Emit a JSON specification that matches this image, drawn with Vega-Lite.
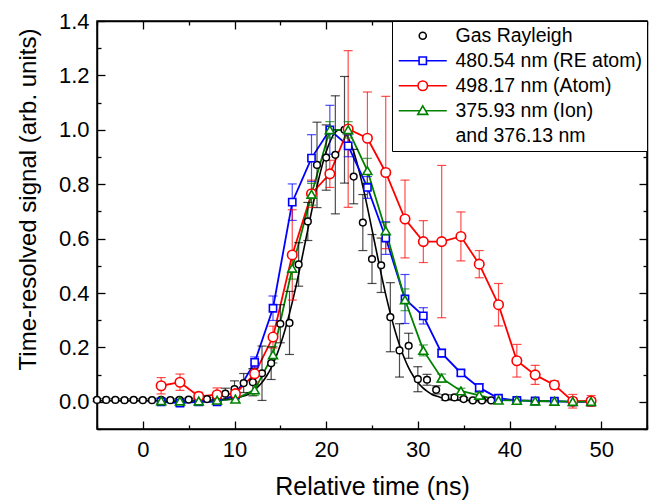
{
  "$schema": "https://vega.github.io/schema/vega-lite/v6.json",
  "width": 550,
  "height": 408,
  "autosize": {"type": "none"},
  "padding": {"left": 97, "top": 21, "right": 7, "bottom": 72},
  "background": "white",
  "config": {
    "font": "Liberation Sans",
    "view": {"stroke": "black", "strokeWidth": 1.5},
    "axis": {"grid": false, "domainColor": "black", "domainWidth": 1.5, "tickColor": "black", "tickWidth": 1.3, "labelColor": "black", "titleColor": "black", "labelFont": "Liberation Sans", "titleFont": "Liberation Sans", "labelFontSize": 22, "titleFontSize": 24, "titleFontWeight": "normal", "labelFlush": false, "labelOverlap": false}
  },
  "datasets": {
    "fit": [
      {"t": -5, "v": 0.005}, {"t": 5, "v": 0.005}, {"t": 6.5, "v": 0.0052}, {"t": 7.5, "v": 0.0056}, {"t": 8.5, "v": 0.0068}, {"t": 9.5, "v": 0.0095},
      {"t": 10, "v": 0.012}, {"t": 10.5, "v": 0.016}, {"t": 11, "v": 0.021}, {"t": 11.5, "v": 0.028}, {"t": 12, "v": 0.039}, {"t": 12.5, "v": 0.053},
      {"t": 13, "v": 0.071}, {"t": 13.5, "v": 0.095}, {"t": 14, "v": 0.125}, {"t": 14.5, "v": 0.163}, {"t": 15, "v": 0.209}, {"t": 15.5, "v": 0.263},
      {"t": 16, "v": 0.325}, {"t": 16.5, "v": 0.394}, {"t": 17, "v": 0.47}, {"t": 17.5, "v": 0.551}, {"t": 18, "v": 0.633}, {"t": 18.5, "v": 0.715},
      {"t": 19, "v": 0.792}, {"t": 19.5, "v": 0.861}, {"t": 20, "v": 0.919}, {"t": 20.5, "v": 0.963}, {"t": 21, "v": 0.991}, {"t": 21.5, "v": 1.0},
      {"t": 22, "v": 0.991}, {"t": 22.5, "v": 0.963}, {"t": 23, "v": 0.919}, {"t": 23.5, "v": 0.861}, {"t": 24, "v": 0.792}, {"t": 24.5, "v": 0.715},
      {"t": 25, "v": 0.633}, {"t": 25.5, "v": 0.551}, {"t": 26, "v": 0.47}, {"t": 26.5, "v": 0.394}, {"t": 27, "v": 0.325}, {"t": 27.5, "v": 0.263},
      {"t": 28, "v": 0.209}, {"t": 28.5, "v": 0.163}, {"t": 29, "v": 0.125}, {"t": 29.5, "v": 0.095}, {"t": 30, "v": 0.071}, {"t": 30.5, "v": 0.053},
      {"t": 31, "v": 0.039}, {"t": 31.5, "v": 0.028}, {"t": 32, "v": 0.021}, {"t": 32.5, "v": 0.016}, {"t": 33, "v": 0.012}, {"t": 33.5, "v": 0.0095},
      {"t": 34.5, "v": 0.0068}, {"t": 35.5, "v": 0.0056}, {"t": 36.5, "v": 0.0052}, {"t": 39, "v": 0.005}
    ],
    "pts": [
      {"s": "Gas Rayleigh", "t": -5, "v": 0.007, "lo": 0.002, "hi": 0.012},
      {"s": "Gas Rayleigh", "t": -4, "v": 0.007, "lo": 0.002, "hi": 0.012},
      {"s": "Gas Rayleigh", "t": -3, "v": 0.007, "lo": 0.002, "hi": 0.012},
      {"s": "Gas Rayleigh", "t": -2, "v": 0.006, "lo": 0.001, "hi": 0.011},
      {"s": "Gas Rayleigh", "t": -1, "v": 0.007, "lo": 0.002, "hi": 0.012},
      {"s": "Gas Rayleigh", "t": 0, "v": 0.006, "lo": 0.001, "hi": 0.011},
      {"s": "Gas Rayleigh", "t": 1, "v": 0.006, "lo": 0.001, "hi": 0.011},
      {"s": "Gas Rayleigh", "t": 2, "v": 0.007, "lo": 0.002, "hi": 0.012},
      {"s": "Gas Rayleigh", "t": 3, "v": 0.006, "lo": 0.001, "hi": 0.011},
      {"s": "Gas Rayleigh", "t": 4, "v": 0.007, "lo": 0.002, "hi": 0.012},
      {"s": "Gas Rayleigh", "t": 5, "v": 0.008, "lo": 0.003, "hi": 0.013},
      {"s": "Gas Rayleigh", "t": 6, "v": 0.008, "lo": 0.003, "hi": 0.013},
      {"s": "Gas Rayleigh", "t": 7, "v": 0.010, "lo": 0.005, "hi": 0.015},
      {"s": "Gas Rayleigh", "t": 8, "v": 0.015, "lo": 0.007, "hi": 0.023},
      {"s": "Gas Rayleigh", "t": 9, "v": 0.030, "lo": 0.010, "hi": 0.050},
      {"s": "Gas Rayleigh", "t": 10, "v": 0.047, "lo": 0.017, "hi": 0.077},
      {"s": "Gas Rayleigh", "t": 11, "v": 0.069, "lo": 0.034, "hi": 0.104},
      {"s": "Gas Rayleigh", "t": 12, "v": 0.072, "lo": 0.022, "hi": 0.122},
      {"s": "Gas Rayleigh", "t": 13, "v": 0.105, "lo": 0.005, "hi": 0.205},
      {"s": "Gas Rayleigh", "t": 14, "v": 0.142, "lo": 0.082, "hi": 0.202},
      {"s": "Gas Rayleigh", "t": 15, "v": 0.287, "lo": 0.217, "hi": 0.357},
      {"s": "Gas Rayleigh", "t": 16, "v": 0.290, "lo": 0.174, "hi": 0.406},
      {"s": "Gas Rayleigh", "t": 17, "v": 0.505, "lo": 0.425, "hi": 0.585},
      {"s": "Gas Rayleigh", "t": 18, "v": 0.663, "lo": 0.593, "hi": 0.733},
      {"s": "Gas Rayleigh", "t": 19, "v": 0.871, "lo": 0.714, "hi": 1.028},
      {"s": "Gas Rayleigh", "t": 20, "v": 0.898, "lo": 0.778, "hi": 1.018},
      {"s": "Gas Rayleigh", "t": 21, "v": 0.908, "lo": 0.691, "hi": 1.125},
      {"s": "Gas Rayleigh", "t": 22, "v": 1.000, "lo": 0.804, "hi": 1.196},
      {"s": "Gas Rayleigh", "t": 23, "v": 0.828, "lo": 0.728, "hi": 0.928},
      {"s": "Gas Rayleigh", "t": 24, "v": 0.659, "lo": 0.556, "hi": 0.762},
      {"s": "Gas Rayleigh", "t": 25, "v": 0.525, "lo": 0.435, "hi": 0.615},
      {"s": "Gas Rayleigh", "t": 26, "v": 0.502, "lo": 0.402, "hi": 0.602},
      {"s": "Gas Rayleigh", "t": 27, "v": 0.311, "lo": 0.184, "hi": 0.438},
      {"s": "Gas Rayleigh", "t": 28, "v": 0.189, "lo": 0.091, "hi": 0.287},
      {"s": "Gas Rayleigh", "t": 29, "v": 0.206, "lo": 0.160, "hi": 0.252},
      {"s": "Gas Rayleigh", "t": 30, "v": 0.083, "lo": 0.037, "hi": 0.129},
      {"s": "Gas Rayleigh", "t": 31, "v": 0.081, "lo": 0.061, "hi": 0.101},
      {"s": "Gas Rayleigh", "t": 32, "v": 0.044, "lo": 0.029, "hi": 0.059},
      {"s": "Gas Rayleigh", "t": 33, "v": 0.016, "lo": 0.006, "hi": 0.026},
      {"s": "Gas Rayleigh", "t": 34, "v": 0.016, "lo": 0.006, "hi": 0.026},
      {"s": "Gas Rayleigh", "t": 35, "v": 0.010, "lo": 0.004, "hi": 0.016},
      {"s": "Gas Rayleigh", "t": 36, "v": 0.005, "lo": 0.000, "hi": 0.010},
      {"s": "Gas Rayleigh", "t": 37, "v": 0.005, "lo": 0.000, "hi": 0.010},
      {"s": "Gas Rayleigh", "t": 38, "v": 0.005, "lo": 0.000, "hi": 0.010},
      {"s": "480.54 nm (RE atom)", "t": 2.0, "v": 0.000, "lo": -0.008, "hi": 0.008},
      {"s": "480.54 nm (RE atom)", "t": 4.05, "v": -0.005, "lo": -0.015, "hi": 0.005},
      {"s": "480.54 nm (RE atom)", "t": 6.1, "v": 0.000, "lo": -0.008, "hi": 0.008},
      {"s": "480.54 nm (RE atom)", "t": 8.1, "v": 0.000, "lo": -0.010, "hi": 0.010},
      {"s": "480.54 nm (RE atom)", "t": 10.1, "v": 0.025, "lo": 0.013, "hi": 0.037},
      {"s": "480.54 nm (RE atom)", "t": 12.2, "v": 0.145, "lo": 0.125, "hi": 0.165},
      {"s": "480.54 nm (RE atom)", "t": 14.2, "v": 0.344, "lo": 0.299, "hi": 0.389},
      {"s": "480.54 nm (RE atom)", "t": 16.3, "v": 0.734, "lo": 0.667, "hi": 0.801},
      {"s": "480.54 nm (RE atom)", "t": 18.4, "v": 0.896, "lo": 0.810, "hi": 0.982},
      {"s": "480.54 nm (RE atom)", "t": 20.4, "v": 1.000, "lo": 0.910, "hi": 1.090},
      {"s": "480.54 nm (RE atom)", "t": 22.4, "v": 0.941, "lo": 0.901, "hi": 0.981},
      {"s": "480.54 nm (RE atom)", "t": 24.5, "v": 0.788, "lo": 0.748, "hi": 0.828},
      {"s": "480.54 nm (RE atom)", "t": 26.5, "v": 0.602, "lo": 0.542, "hi": 0.662},
      {"s": "480.54 nm (RE atom)", "t": 28.6, "v": 0.378, "lo": 0.288, "hi": 0.468},
      {"s": "480.54 nm (RE atom)", "t": 30.6, "v": 0.316, "lo": 0.286, "hi": 0.346},
      {"s": "480.54 nm (RE atom)", "t": 32.6, "v": 0.179, "lo": 0.164, "hi": 0.194},
      {"s": "480.54 nm (RE atom)", "t": 34.7, "v": 0.106, "lo": 0.096, "hi": 0.116},
      {"s": "480.54 nm (RE atom)", "t": 36.7, "v": 0.052, "lo": 0.037, "hi": 0.067},
      {"s": "480.54 nm (RE atom)", "t": 38.8, "v": 0.013, "lo": 0.005, "hi": 0.021},
      {"s": "480.54 nm (RE atom)", "t": 40.8, "v": 0.005, "lo": 0.000, "hi": 0.010},
      {"s": "480.54 nm (RE atom)", "t": 42.8, "v": 0.003, "lo": -0.002, "hi": 0.008},
      {"s": "480.54 nm (RE atom)", "t": 44.9, "v": 0.002, "lo": -0.003, "hi": 0.007},
      {"s": "480.54 nm (RE atom)", "t": 46.9, "v": 0.000, "lo": -0.005, "hi": 0.005},
      {"s": "480.54 nm (RE atom)", "t": 48.9, "v": 0.000, "lo": -0.005, "hi": 0.005},
      {"s": "498.17 nm (Atom)", "t": 2.0, "v": 0.059, "lo": 0.029, "hi": 0.089},
      {"s": "498.17 nm (Atom)", "t": 4.05, "v": 0.072, "lo": 0.042, "hi": 0.102},
      {"s": "498.17 nm (Atom)", "t": 6.1, "v": 0.020, "lo": 0.005, "hi": 0.035},
      {"s": "498.17 nm (Atom)", "t": 8.1, "v": 0.026, "lo": 0.001, "hi": 0.051},
      {"s": "498.17 nm (Atom)", "t": 10.1, "v": 0.030, "lo": 0.015, "hi": 0.045},
      {"s": "498.17 nm (Atom)", "t": 12.2, "v": 0.103, "lo": 0.073, "hi": 0.133},
      {"s": "498.17 nm (Atom)", "t": 14.2, "v": 0.238, "lo": 0.198, "hi": 0.278},
      {"s": "498.17 nm (Atom)", "t": 16.3, "v": 0.540, "lo": 0.374, "hi": 0.706},
      {"s": "498.17 nm (Atom)", "t": 18.4, "v": 0.765, "lo": 0.715, "hi": 0.815},
      {"s": "498.17 nm (Atom)", "t": 20.4, "v": 0.838, "lo": 0.788, "hi": 0.888},
      {"s": "498.17 nm (Atom)", "t": 22.4, "v": 1.003, "lo": 0.715, "hi": 1.291},
      {"s": "498.17 nm (Atom)", "t": 24.5, "v": 0.969, "lo": 0.799, "hi": 1.139},
      {"s": "498.17 nm (Atom)", "t": 26.5, "v": 0.843, "lo": 0.563, "hi": 1.123},
      {"s": "498.17 nm (Atom)", "t": 28.6, "v": 0.672, "lo": 0.529, "hi": 0.815},
      {"s": "498.17 nm (Atom)", "t": 30.6, "v": 0.589, "lo": 0.512, "hi": 0.666},
      {"s": "498.17 nm (Atom)", "t": 32.6, "v": 0.589, "lo": 0.309, "hi": 0.869},
      {"s": "498.17 nm (Atom)", "t": 34.7, "v": 0.608, "lo": 0.518, "hi": 0.698},
      {"s": "498.17 nm (Atom)", "t": 36.7, "v": 0.506, "lo": 0.456, "hi": 0.556},
      {"s": "498.17 nm (Atom)", "t": 38.8, "v": 0.357, "lo": 0.279, "hi": 0.435},
      {"s": "498.17 nm (Atom)", "t": 40.8, "v": 0.151, "lo": 0.091, "hi": 0.211},
      {"s": "498.17 nm (Atom)", "t": 42.8, "v": 0.099, "lo": 0.064, "hi": 0.134},
      {"s": "498.17 nm (Atom)", "t": 44.9, "v": 0.062, "lo": 0.047, "hi": 0.077},
      {"s": "498.17 nm (Atom)", "t": 46.9, "v": 0.002, "lo": -0.023, "hi": 0.027},
      {"s": "498.17 nm (Atom)", "t": 48.9, "v": 0.003, "lo": -0.017, "hi": 0.023},
      {"s": "375.93 nm (Ion)", "t": 2.0, "v": 0.004, "lo": -0.006, "hi": 0.014},
      {"s": "375.93 nm (Ion)", "t": 4.05, "v": 0.003, "lo": -0.007, "hi": 0.013},
      {"s": "375.93 nm (Ion)", "t": 6.1, "v": 0.003, "lo": -0.007, "hi": 0.013},
      {"s": "375.93 nm (Ion)", "t": 8.1, "v": 0.006, "lo": -0.004, "hi": 0.016},
      {"s": "375.93 nm (Ion)", "t": 10.1, "v": 0.010, "lo": -0.002, "hi": 0.022},
      {"s": "375.93 nm (Ion)", "t": 12.2, "v": 0.044, "lo": 0.024, "hi": 0.064},
      {"s": "375.93 nm (Ion)", "t": 14.2, "v": 0.173, "lo": 0.143, "hi": 0.203},
      {"s": "375.93 nm (Ion)", "t": 16.3, "v": 0.491, "lo": 0.451, "hi": 0.531},
      {"s": "375.93 nm (Ion)", "t": 18.4, "v": 0.763, "lo": 0.723, "hi": 0.803},
      {"s": "375.93 nm (Ion)", "t": 20.4, "v": 1.000, "lo": 0.970, "hi": 1.030},
      {"s": "375.93 nm (Ion)", "t": 22.4, "v": 1.000, "lo": 0.970, "hi": 1.030},
      {"s": "375.93 nm (Ion)", "t": 24.5, "v": 0.850, "lo": 0.805, "hi": 0.895},
      {"s": "375.93 nm (Ion)", "t": 26.5, "v": 0.629, "lo": 0.599, "hi": 0.659},
      {"s": "375.93 nm (Ion)", "t": 28.6, "v": 0.375, "lo": 0.335, "hi": 0.415},
      {"s": "375.93 nm (Ion)", "t": 30.6, "v": 0.189, "lo": 0.169, "hi": 0.209},
      {"s": "375.93 nm (Ion)", "t": 32.6, "v": 0.087, "lo": 0.072, "hi": 0.102},
      {"s": "375.93 nm (Ion)", "t": 34.7, "v": 0.040, "lo": 0.030, "hi": 0.050},
      {"s": "375.93 nm (Ion)", "t": 36.7, "v": 0.024, "lo": 0.014, "hi": 0.034},
      {"s": "375.93 nm (Ion)", "t": 38.8, "v": 0.006, "lo": -0.002, "hi": 0.014},
      {"s": "375.93 nm (Ion)", "t": 40.8, "v": 0.005, "lo": -0.003, "hi": 0.013},
      {"s": "375.93 nm (Ion)", "t": 42.8, "v": 0.003, "lo": -0.005, "hi": 0.011},
      {"s": "375.93 nm (Ion)", "t": 44.9, "v": 0.002, "lo": -0.006, "hi": 0.010},
      {"s": "375.93 nm (Ion)", "t": 46.9, "v": 0.001, "lo": -0.007, "hi": 0.009},
      {"s": "375.93 nm (Ion)", "t": 48.9, "v": 0.001, "lo": -0.007, "hi": 0.009}
    ]
  },
  "layer": [
    {
      "data": {"name": "fit"},
      "mark": {"type": "line", "color": "black", "strokeWidth": 1.6, "interpolate": "monotone"},
      "encoding": {
        "x": {"field": "t", "type": "quantitative", "scale": {"domain": [-5, 55], "nice": false, "zero": false},
          "axis": {"orient": "bottom", "values": [-5, 0, 5, 10, 15, 20, 25, 30, 35, 40, 45, 50, 55], "labelExpr": "datum.value % 10 === 0 ? datum.label : ''", "tickSize": {"condition": {"test": "datum.value % 10 === 0", "value": -8}, "value": -4}, "labelPadding": 18, "title": "Relative time (ns)", "titleFontSize": 25, "titleBaseline": "alphabetic", "titleY": 65}},
        "y": {"field": "v", "type": "quantitative", "scale": {"domain": [-0.1, 1.4], "nice": false, "zero": false},
          "axis": {"orient": "left", "values": [-0.1, 0, 0.1, 0.2, 0.3, 0.4, 0.5, 0.6, 0.7, 0.8, 0.9, 1.0, 1.1, 1.2, 1.3, 1.4], "labelExpr": "abs(round(datum.value*10)) % 2 === 0 ? format(datum.value, '.1f') : ''", "tickSize": {"condition": {"test": "abs(round(datum.value*10)) % 2 === 0", "value": -8}, "value": -4}, "labelPadding": 16, "title": "Time-resolved signal (arb. units)", "titleBaseline": "alphabetic", "titleX": -62, "titleY": 178}}
      }
    },
    {
      "data": {"name": "pts"},
      "transform": [{"filter": "datum.s !== 'Gas Rayleigh'"}],
      "mark": {"type": "line", "strokeWidth": 1.8},
      "encoding": {
        "x": {"field": "t", "type": "quantitative", "scale": {"domain": [-5, 55], "nice": false, "zero": false},
          "axis": {"orient": "top", "values": [-5, 0, 5, 10, 15, 20, 25, 30, 35, 40, 45, 50, 55], "labels": false, "tickSize": {"condition": {"test": "datum.value % 10 === 0", "value": -8}, "value": -4}, "title": null}},
        "y": {"field": "v", "type": "quantitative", "scale": {"domain": [-0.1, 1.4], "nice": false, "zero": false},
          "axis": {"orient": "right", "values": [-0.1, 0, 0.1, 0.2, 0.3, 0.4, 0.5, 0.6, 0.7, 0.8, 0.9, 1.0, 1.1, 1.2, 1.3, 1.4], "labels": false, "tickSize": {"condition": {"test": "abs(round(datum.value*10)) % 2 === 0", "value": -8}, "value": -4}, "title": null}},
        "color": {"field": "s", "type": "nominal",
          "scale": {"domain": ["Gas Rayleigh", "480.54 nm (RE atom)", "498.17 nm (Atom)", "375.93 nm (Ion)", "and 376.13 nm"], "range": ["black", "#0000ff", "#ff0000", "#008000", "white"]},
          "legend": {"orient": "top-right", "offset": 0, "title": null, "strokeColor": "black", "fillColor": "white", "padding": 5, "labelFont": "Liberation Sans", "labelFontSize": 19.5, "labelColor": "black", "labelLimit": 400, "symbolSize": 256, "symbolStrokeWidth": 1.6, "symbolFillColor": "white", "labelOffset": 39, "rowPadding": 4,
            "encode": {"symbols": {"update": {"fill": {"value": "white"}, "shape": {"signal": "datum.value === 'Gas Rayleigh' ? 'M1.56,0A0.44,0.44 0 1,0 2.44,0A0.44,0.44 0 1,0 1.56,0Z' : datum.value === '480.54 nm (RE atom)' ? 'M-1,0H1.54M2.46,0H5M1.54,-0.46H2.46V0.46H1.54Z' : datum.value === '498.17 nm (Atom)' ? 'M-1,0H1.41M2.59,0H5M1.41,0A0.59,0.59 0 1,0 2.59,0A0.59,0.59 0 1,0 1.41,0Z' : datum.value === '375.93 nm (Ion)' ? 'M-1,0H1.6M2.4,0H5M2,-0.62L2.62,0.45H1.38Z' : 'M0,0'"}}}}}
        }
      }
    },
    {
      "data": {"name": "pts"},
      "mark": {"type": "rule", "strokeWidth": 1.2, "opacity": 0.7},
      "encoding": {
        "x": {"field": "t", "type": "quantitative", "scale": {"domain": [-5, 55], "nice": false, "zero": false}, "axis": null},
        "y": {"field": "lo", "type": "quantitative", "scale": {"domain": [-0.1, 1.4], "nice": false, "zero": false}, "axis": null},
        "y2": {"field": "hi"},
        "color": {"field": "s", "type": "nominal"}
      }
    },
    {
      "data": {"name": "pts"},
      "mark": {"type": "point", "shape": "M-1,0H1", "size": 81, "filled": false, "strokeWidth": 1.2, "opacity": 0.7},
      "encoding": {
        "x": {"field": "t", "type": "quantitative", "scale": {"domain": [-5, 55], "nice": false, "zero": false}, "axis": null},
        "y": {"field": "lo", "type": "quantitative", "scale": {"domain": [-0.1, 1.4], "nice": false, "zero": false}, "axis": null},
        "color": {"field": "s", "type": "nominal"}
      }
    },
    {
      "data": {"name": "pts"},
      "mark": {"type": "point", "shape": "M-1,0H1", "size": 81, "filled": false, "strokeWidth": 1.2, "opacity": 0.7},
      "encoding": {
        "x": {"field": "t", "type": "quantitative", "scale": {"domain": [-5, 55], "nice": false, "zero": false}, "axis": null},
        "y": {"field": "hi", "type": "quantitative", "scale": {"domain": [-0.1, 1.4], "nice": false, "zero": false}, "axis": null},
        "color": {"field": "s", "type": "nominal"}
      }
    },
    {
      "data": {"name": "pts"},
      "transform": [{"filter": "datum.s === 'Gas Rayleigh'"}],
      "mark": {"type": "point", "shape": "circle", "size": 45, "filled": false, "fill": "white", "strokeWidth": 1.5, "opacity": 1},
      "encoding": {
        "x": {"field": "t", "type": "quantitative", "scale": {"domain": [-5, 55], "nice": false, "zero": false}, "axis": null},
        "y": {"field": "v", "type": "quantitative", "scale": {"domain": [-0.1, 1.4], "nice": false, "zero": false}, "axis": null},
        "color": {"field": "s", "type": "nominal"}
      }
    },
    {
      "data": {"name": "pts"},
      "transform": [{"filter": "datum.s === '480.54 nm (RE atom)'"}],
      "mark": {"type": "point", "shape": "square", "size": 52, "filled": false, "fill": "white", "strokeWidth": 1.6, "opacity": 1},
      "encoding": {
        "x": {"field": "t", "type": "quantitative", "scale": {"domain": [-5, 55], "nice": false, "zero": false}, "axis": null},
        "y": {"field": "v", "type": "quantitative", "scale": {"domain": [-0.1, 1.4], "nice": false, "zero": false}, "axis": null},
        "color": {"field": "s", "type": "nominal"}
      }
    },
    {
      "data": {"name": "pts"},
      "transform": [{"filter": "datum.s === '498.17 nm (Atom)'"}],
      "mark": {"type": "point", "shape": "circle", "size": 90, "filled": false, "fill": "white", "strokeWidth": 1.6, "opacity": 1},
      "encoding": {
        "x": {"field": "t", "type": "quantitative", "scale": {"domain": [-5, 55], "nice": false, "zero": false}, "axis": null},
        "y": {"field": "v", "type": "quantitative", "scale": {"domain": [-0.1, 1.4], "nice": false, "zero": false}, "axis": null},
        "color": {"field": "s", "type": "nominal"}
      }
    },
    {
      "data": {"name": "pts"},
      "transform": [{"filter": "datum.s === '375.93 nm (Ion)'"}],
      "mark": {"type": "point", "shape": "triangle-up", "size": 80, "filled": false, "fill": "white", "strokeWidth": 1.6, "opacity": 1},
      "encoding": {
        "x": {"field": "t", "type": "quantitative", "scale": {"domain": [-5, 55], "nice": false, "zero": false}, "axis": null},
        "y": {"field": "v", "type": "quantitative", "scale": {"domain": [-0.1, 1.4], "nice": false, "zero": false}, "axis": null},
        "color": {"field": "s", "type": "nominal"}
      }
    }
  ],
  "resolve": {"axis": {"x": "independent", "y": "independent"}}
}
